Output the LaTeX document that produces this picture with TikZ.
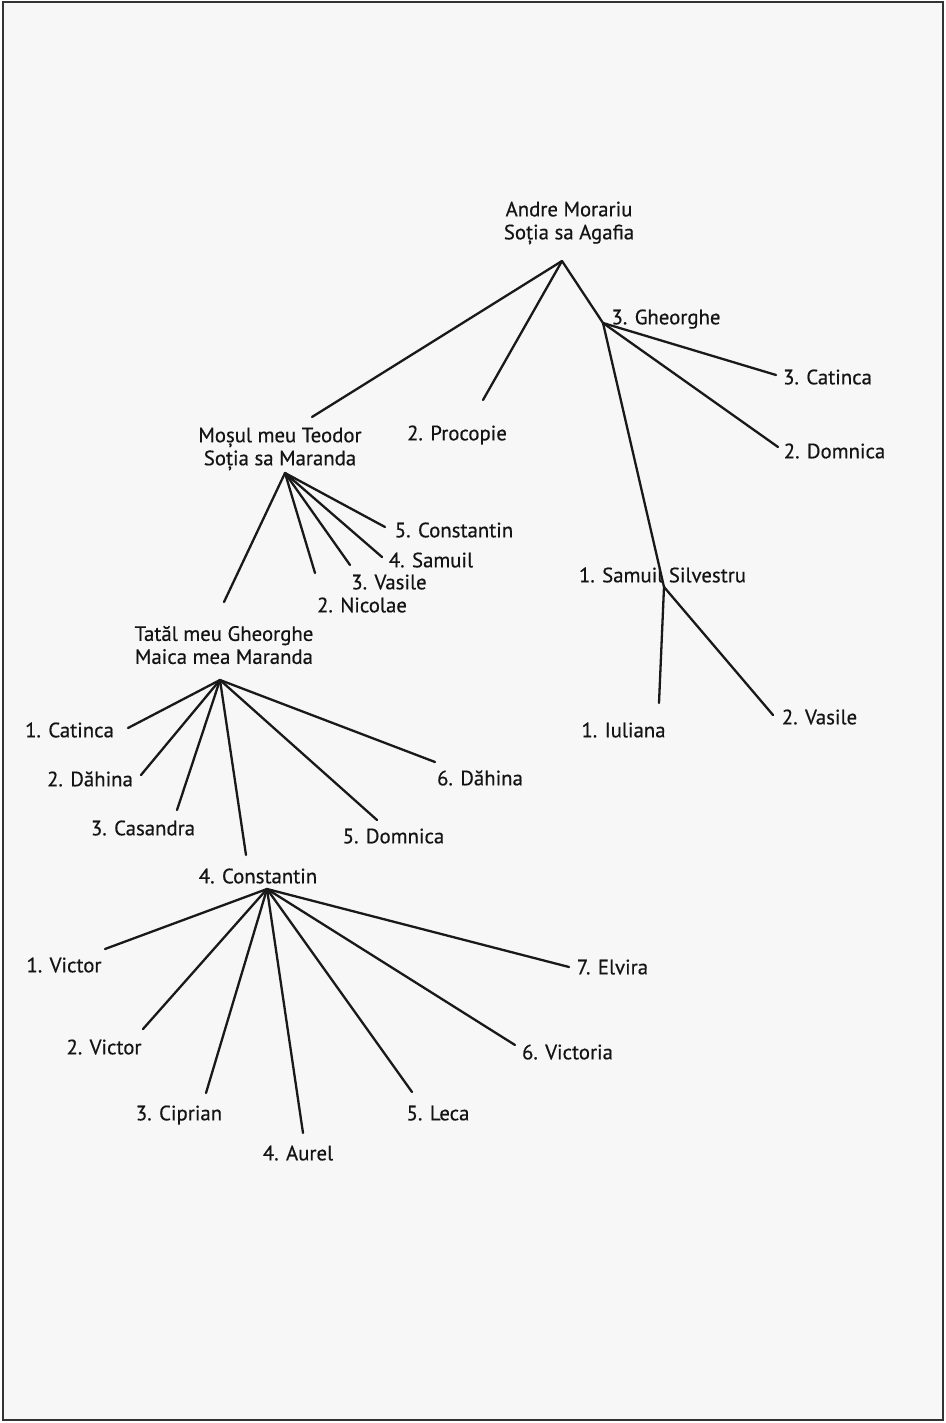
\documentclass[tikz,border=0pt]{standalone}
\usepackage{fontspec}
\setmainfont{PT Sans}
\newfontfamily\treefont{PT Sans}[FakeBold=0.45]
\begin{document}
\begin{tikzpicture}[x=0.5pt,y=-0.5pt,
  lbl/.style={inner sep=0pt, text height=7.3pt, text depth=0pt, font=\treefont\fontsize{10.4}{11.5}\selectfont, text=black!92},
  couple/.style={inner sep=0pt, align=center, font=\treefont\fontsize{10.4}{11.5}\selectfont, text=black!92},
  link/.style={line width=1.15pt, draw=black!90, line cap=round}]
\useasboundingbox (0,0) rectangle (946,1423);
\fill[white] (0,0) rectangle (946,1423);
\draw[line width=1.1pt, draw=black!80, fill=black!3] (3,2) rectangle (943,1420);

% generation 1
\node[couple] (andre) at (569,223) {Andre Morariu\\Soția sa Agafia};
\coordinate (andreJ) at (562,261);
\node[lbl] (procopie) at (457,433) {2. Procopie};
\coordinate (procopieE) at (483,400);
\node[lbl] (gheorghe) at (666,317) {3. Gheorghe};
\coordinate (gheorgheJ) at (603,323);
\node[lbl] (catinca3) at (827.5,377) {3. Catinca};
\coordinate (catinca3E) at (776,375);
\node[lbl] (domnica2) at (834.5,451) {2. Domnica};
\coordinate (domnica2E) at (778,447);
\node[lbl] (samuilS) at (662.5,575) {1. Samuil Silvestru};
\coordinate (samuilJ) at (664,587);
\node[lbl] (iuliana) at (623.5,730) {1. Iuliana};
\coordinate (iulianaE) at (659,703);
\node[lbl] (vasileR) at (819.5,717) {2. Vasile};
\coordinate (vasileRE) at (773,715);

% Mosul
\node[couple] (mosul) at (280,449) {Moșul meu Teodor\\Soția sa Maranda};
\coordinate (mosulE) at (312,417);
\coordinate (mosulJ) at (285,473);
\node[lbl] (constantin5) at (454,530) {5. Constantin};
\coordinate (constantin5E) at (385,527);
\node[lbl] (samuil4) at (431,560) {4. Samuil};
\coordinate (samuil4E) at (382,557);
\node[lbl] (vasile3) at (389,582) {3. Vasile};
\coordinate (vasile3E) at (350,565);
\node[lbl] (nicolae) at (362,605) {2. Nicolae};
\coordinate (nicolaeE) at (315,573);

% Tatal
\node[couple] (tatal) at (224,645) {Tatăl meu Gheorghe\\Maica mea Maranda};
\coordinate (tatalE) at (224,602);
\coordinate (tatalJ) at (220,680);
\node[lbl] (catinca1) at (69.5,730) {1. Catinca};
\coordinate (catinca1E) at (128,728);
\node[lbl] (dahina2) at (90,779) {2. Dăhina};
\coordinate (dahina2E) at (141,775);
\node[lbl] (casandra) at (143,828) {3. Casandra};
\coordinate (casandraE) at (177,810);
\node[lbl] (constantin4) at (258,876) {4. Constantin};
\coordinate (constantin4E) at (246,855);
\coordinate (constantin4J) at (267,889);
\node[lbl] (domnica5) at (393.5,836) {5. Domnica};
\coordinate (domnica5E) at (377,820);
\node[lbl] (dahina6) at (480,778) {6. Dăhina};
\coordinate (dahina6E) at (435,762);

% Constantin's children
\node[lbl] (victor1) at (64,965) {1. Victor};
\coordinate (victor1E) at (105,949);
\node[lbl] (victor2) at (104,1047) {2. Victor};
\coordinate (victor2E) at (143,1029);
\node[lbl] (ciprian) at (179,1113) {3. Ciprian};
\coordinate (ciprianE) at (206,1093);
\node[lbl] (aurel) at (298,1153) {4. Aurel};
\coordinate (aurelE) at (303,1133);
\node[lbl] (leca) at (438,1113) {5. Leca};
\coordinate (lecaE) at (412,1092);
\node[lbl] (victoria) at (567.5,1052) {6. Victoria};
\coordinate (victoriaE) at (515,1045);
\node[lbl] (elvira) at (612.5,967) {7. Elvira};
\coordinate (elviraE) at (569,967);

% connectors
\draw[link] (andreJ) -- (mosulE);
\draw[link] (andreJ) -- (procopieE);
\draw[link] (andreJ) -- (gheorgheJ);
\draw[link] (gheorgheJ) -- (catinca3E);
\draw[link] (gheorgheJ) -- (domnica2E);
\draw[link] (gheorgheJ) -- (samuilJ);
\draw[link] (samuilJ) -- (iulianaE);
\draw[link] (samuilJ) -- (vasileRE);

\draw[link] (mosulJ) -- (constantin5E);
\draw[link] (mosulJ) -- (samuil4E);
\draw[link] (mosulJ) -- (vasile3E);
\draw[link] (mosulJ) -- (nicolaeE);
\draw[link] (mosulJ) -- (tatalE);

\draw[link] (tatalJ) -- (catinca1E);
\draw[link] (tatalJ) -- (dahina2E);
\draw[link] (tatalJ) -- (casandraE);
\draw[link] (tatalJ) -- (constantin4E);
\draw[link] (tatalJ) -- (domnica5E);
\draw[link] (tatalJ) -- (dahina6E);

\draw[link] (constantin4J) -- (victor1E);
\draw[link] (constantin4J) -- (victor2E);
\draw[link] (constantin4J) -- (ciprianE);
\draw[link] (constantin4J) -- (aurelE);
\draw[link] (constantin4J) -- (lecaE);
\draw[link] (constantin4J) -- (victoriaE);
\draw[link] (constantin4J) -- (elviraE);
\end{tikzpicture}
\end{document}
